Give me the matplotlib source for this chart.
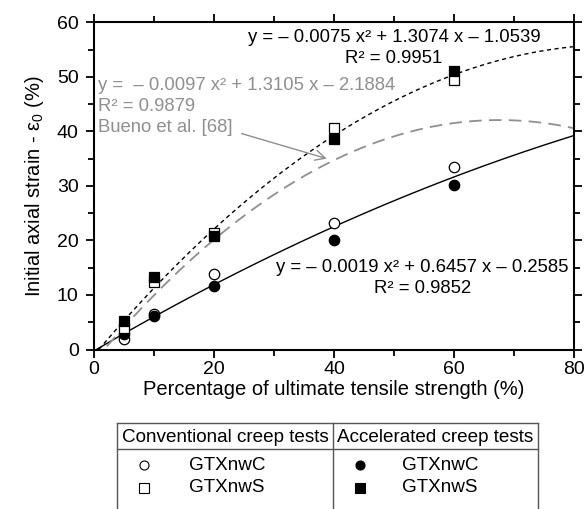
"""
Initial axial strain vs percentage of ultimate tensile strength
"""

import numpy as np
import matplotlib
matplotlib.use("Agg")
import matplotlib.pyplot as plt
from matplotlib.lines import Line2D

plt.rcParams['font.family'] = ['Liberation Sans', 'DejaVu Sans']
plt.rcParams['mathtext.fontset'] = 'custom'
plt.rcParams['mathtext.rm'] = 'Liberation Sans'
plt.rcParams['mathtext.it'] = 'Liberation Sans:italic'

# Load levels (% of ultimate tensile strength)
x_load = [5, 10, 20, 40, 60]
# Conventional creep tests
conv_c = [2.0, 6.6, 13.9, 23.2, 33.5]
conv_s = [3.9, 12.4, 21.3, 40.7, 49.5]
# Accelerated creep tests
acc_c = [2.9, 6.2, 11.6, 20.0, 30.2]
acc_s = [5.3, 13.3, 20.9, 38.6, 51.1]

# Trendline coefficients as printed on the chart (a x^2 + b x + c)
coef_c = [-0.0019, 0.6457, -0.2585]
coef_s = [-0.0075, 1.3074, -1.0539]
coef_bueno = [-0.0097, 1.3105, -2.1884]

GRAY = '#8f8f8f'
FS_TICK = 14
FS_LAB = 14.5
FS_EQ = 13.3
FS_LEG = 13.6

fig = plt.figure(figsize=(5.87, 5.09), dpi=100)
ax = fig.add_axes([94 / 587, 1 - 349.5 / 509, 480 / 587, 327.2 / 509])

xs = np.linspace(0, 80, 400)
ax.plot(xs, np.polyval(coef_c, xs), color='black', lw=1.0)
ax.plot(xs, np.polyval(coef_s, xs), color='black', lw=1.0, dashes=(3, 2.5))
ax.plot(xs, np.polyval(coef_bueno, xs), color=GRAY, lw=1.3, dashes=(7, 4))

ms = 7.5
ax.plot(x_load, conv_c, 'o', mfc='white', mec='black', ms=ms, mew=0.9)
ax.plot(x_load, acc_c, 'o', mfc='black', mec='black', ms=ms, mew=0.9)
ax.plot(x_load, conv_s, 's', mfc='white', mec='black', ms=ms, mew=0.9)
ax.plot(x_load, acc_s, 's', mfc='black', mec='black', ms=ms, mew=0.9)

ax.set_xlim(0, 80)
ax.set_ylim(0, 60)
ax.set_xticks([0, 20, 40, 60, 80])
ax.set_xticks([10, 30, 50, 70], minor=True)
ax.set_yticks([0, 10, 20, 30, 40, 50, 60])
ax.set_yticks([5, 15, 25, 35, 45, 55], minor=True)
ax.tick_params(which='both', direction='out', top=True, right=True,
               labeltop=False, labelright=False, width=1.3,
               labelsize=FS_TICK)
ax.tick_params(which='major', length=6)
ax.tick_params(which='minor', length=4)
ax.tick_params(axis='x', pad=2)
ax.tick_params(axis='y', pad=5)
for s in ax.spines.values():
    s.set_linewidth(1.5)

ax.set_xlabel('Percentage of ultimate tensile strength (%)', fontsize=FS_LAB, labelpad=2)
ax.set_ylabel('Initial axial strain - ε$_0$ (%)', fontsize=FS_LAB, labelpad=8)

# Equations
ax.text(50, 55.3, 'y = – 0.0075 x² + 1.3074 x – 1.0539\nR² = 0.9951',
        ha='center', va='center', fontsize=FS_EQ, linespacing=1.3)
ax.text(54.7, 13.1, 'y = – 0.0019 x² + 0.6457 x – 0.2585\nR² = 0.9852',
        ha='center', va='center', fontsize=FS_EQ, linespacing=1.3)
ax.text(0.6, 49.9, 'y =  – 0.0097 x² + 1.3105 x – 2.1884\nR² = 0.9879\nBueno et al. [68]',
        ha='left', va='top', fontsize=FS_EQ, color=GRAY, linespacing=1.3)
ax.annotate('', xy=(38.8, 35.0), xytext=(24.6, 39.6),
            arrowprops=dict(arrowstyle='->', color=GRAY, lw=1.0,
                            mutation_scale=18, shrinkA=0, shrinkB=0))

# Legend table below the plot
x0, x1, xm = 117 / 587, 538 / 587, 333 / 587
y_top, y_mid, y_bot = 1 - 423 / 509, 1 - 449 / 509, -0.01
lk = dict(color='#555555', lw=1.0, transform=fig.transFigure)
fig.add_artist(Line2D([x0, x1], [y_top, y_top], **lk))
fig.add_artist(Line2D([x0, x1], [y_mid, y_mid], **lk))
fig.add_artist(Line2D([x0, x0], [y_top, y_bot], **lk))
fig.add_artist(Line2D([x1, x1], [y_top, y_bot], **lk))
fig.add_artist(Line2D([xm, xm], [y_top, y_bot], **lk))

fig.text((x0 + xm) / 2, 1 - 438 / 509, 'Conventional creep tests',
         ha='center', va='center', fontsize=FS_LEG)
fig.text((xm + x1) / 2, 1 - 438 / 509, 'Accelerated creep tests',
         ha='center', va='center', fontsize=FS_LEG)

rows = [1 - 465 / 509, 1 - 488 / 509]
names = ['GTXnwC', 'GTXnwS']
marks = ['o', 's']
for yy, nm, mk in zip(rows, names, marks):
    fig.add_artist(Line2D([144 / 587], [yy], marker=mk, ms=6.5, mfc='white',
                          mec='black', mew=0.8, transform=fig.transFigure))
    fig.text(189 / 587, yy, nm, ha='left', va='center', fontsize=FS_LEG)
    fig.add_artist(Line2D([360 / 587], [yy], marker=mk, ms=6.5, mfc='black',
                          mec='black', mew=0.8, transform=fig.transFigure))
    fig.text(402 / 587, yy, nm, ha='left', va='center', fontsize=FS_LEG)

fig.savefig('out.png', dpi=100)
